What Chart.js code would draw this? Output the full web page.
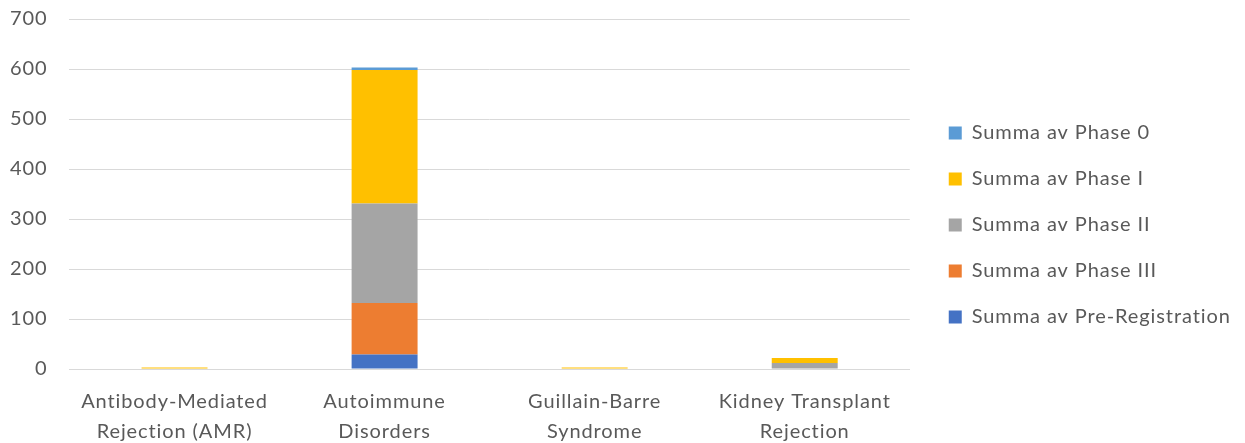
<!DOCTYPE html>
<html>
<head>
<meta charset="utf-8">
<script src="https://cdn.jsdelivr.net/npm/chart.js@4/dist/chart.umd.min.js"></script>
<style>
  html, body { margin: 0; padding: 0; background: #fff; }
  #wrap { width: 1245px; height: 443px; }
</style>
</head>
<body>
<div id="wrap"><canvas id="chart"></canvas></div>
<script>
// categories (two-line labels)
const categories = [
  ['Antibody-Mediated', 'Rejection (AMR)'],
  ['Autoimmune', 'Disorders'],
  ['Guillain-Barre', 'Syndrome'],
  ['Kidney Transplant', 'Rejection']
];

// series, bottom to top of the stack
const preRegistration = [0, 29, 0, 0];
const phaseIII = [0, 103, 0, 0];
const phaseII = [0, 199, 0, 12];
const phaseI = [3, 267, 3, 10];
const phase0 = [0, 5, 0, 0];

const yTicks = [0, 100, 200, 300, 400, 500, 600, 700];

const textColor = '#595959';
const gridColor = '#d9d9d9';
const fontFamily = 'Lato, "Liberation Sans", sans-serif';

const datasets = [
  { label: 'Summa av Pre-Registration', data: preRegistration, backgroundColor: '#4472C4' },
  { label: 'Summa av Phase III', data: phaseIII, backgroundColor: '#ED7D31' },
  { label: 'Summa av Phase II', data: phaseII, backgroundColor: '#A5A5A5' },
  { label: 'Summa av Phase I', data: phaseI, backgroundColor: '#FFC000' },
  { label: 'Summa av Phase 0', data: phase0, backgroundColor: '#5B9BD5' }
];

datasets.forEach((ds) => {
  ds.barPercentage = 0.314;
  ds.categoryPercentage = 1;
  ds.borderWidth = 0;
});

// excel-like wide text spacing
const spacing = {
  id: 'spacing',
  beforeUpdate(chart) { chart.ctx.letterSpacing = '0.9px'; },
  beforeDraw(chart) { chart.ctx.letterSpacing = '0.9px'; },
  afterLayout(chart) {
    // leave a gap between plot and legend, lift legend a bit
    chart.legend.left += 13;
    chart.legend.right += 13;
    chart.legend.top -= 17;
    chart.legend.bottom -= 17;
  }
};

new Chart(document.getElementById('chart'), {
  type: 'bar',
  data: { labels: categories, datasets: datasets },
  options: {
    responsive: true,
    maintainAspectRatio: false,
    animation: false,
    layout: { padding: { top: 19, left: -12, right: 28, bottom: -22 } },
    plugins: {
      tooltip: { enabled: false },
      legend: {
        position: 'right',
        reverse: true,
        labels: {
          color: textColor,
          font: { family: fontFamily, size: 20 },
          boxWidth: 13,
          boxHeight: 13,
          padding: 26
        }
      }
    },
    scales: {
      x: {
        stacked: true,
        grid: { display: false, drawTicks: false },
        border: { color: gridColor },
        ticks: {
          color: textColor,
          font: { family: fontFamily, size: 20, lineHeight: 1.5 },
          padding: 18,
          maxRotation: 0
        }
      },
      y: {
        stacked: true,
        min: yTicks[0],
        max: yTicks[yTicks.length - 1],
        afterBuildTicks: (axis) => {
          axis.ticks = yTicks.map((v) => ({ value: v }));
        },
        afterFit: (axis) => {
          axis.paddingTop = 0;
          axis.paddingBottom = 0;
        },
        grid: { color: gridColor, drawTicks: false },
        border: { display: false },
        ticks: {
          color: textColor,
          font: { family: fontFamily, size: 20 },
          padding: 22
        }
      }
    }
  },
  plugins: [spacing]
});
</script>
</body>
</html>
